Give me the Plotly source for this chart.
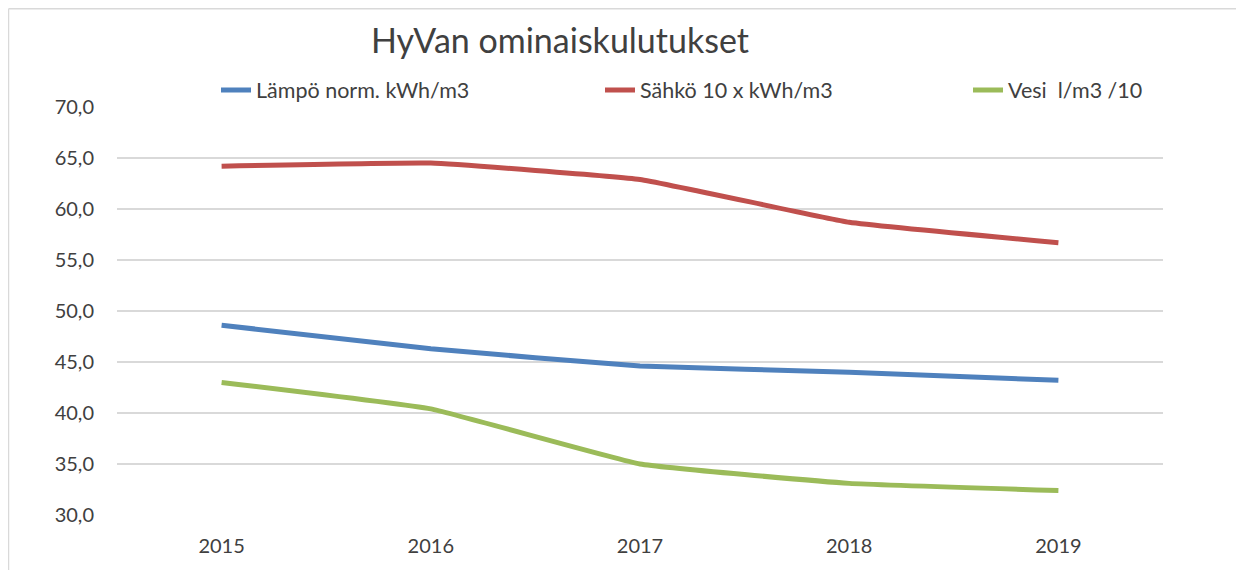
import plotly.graph_objects as go

years = ["2015", "2016", "2017", "2018", "2019"]
lampo = [48.6, 46.3, 44.6, 44.0, 43.2]
sahko = [64.2, 64.5, 62.9, 58.7, 56.7]
vesi = [43.0, 40.4, 35.0, 33.1, 32.4]
names = ["Lämpö norm. kWh/m3", "Sähkö 10 x kWh/m3", "Vesi  l/m3 /10"]
colors = ["#4F81BD", "#C0504D", "#9BBB59"]
yticks = [30, 35, 40, 45, 50, 55, 60, 65, 70]

# the page body has an 8px margin, so the figure is drawn from (8, 8)
OFF = 8
W, H = 1244 - OFF, 570 - OFF
L, R, T, B = 117 - OFF, 81, 107 - OFF, 55
pw, ph = W - L - R, H - T - B

def px(x):  # x in page pixels -> paper
    return (x - OFF - L) / pw

def py(y):  # y in page pixels -> paper
    return (H - B - (y - OFF)) / ph

FONT = "Lato, Open Sans, sans-serif"
TXT = "#404040"

fig = go.Figure()
series = [lampo, sahko, vesi]
legends = ["legend", "legend2", "legend3"]
for s, n, c, lg in zip(series, names, colors, legends):
    fig.add_trace(go.Scatter(x=years, y=s, name=n, mode="lines",
                             line=dict(color=c, width=5, shape="spline", smoothing=0.3),
                             legend=lg, showlegend=True))

text_x = [256, 640, 1008]
leg_common = dict(orientation="h", yanchor="middle", xanchor="left",
                  font=dict(family=FONT, size=21.5, color=TXT),
                  bgcolor="rgba(0,0,0,0)", borderwidth=0, visible=True)
layout_leg = {}
for lg, tx in zip(legends, text_x):
    layout_leg[lg] = dict(leg_common, x=px(tx - 40), y=py(90))

fig.update_layout(
    width=W, height=H,
    showlegend=True,
    margin=dict(l=L, r=R, t=T, b=B),
    paper_bgcolor="white", plot_bgcolor="white",
    separators=", ",
    font=dict(family=FONT, color=TXT, size=20),
    title=dict(text="HyVan ominaiskulutukset", x=(560 - OFF) / W, xanchor="center",
               y=1 - (41 - OFF) / H, yanchor="middle", yref="container",
               font=dict(family=FONT, size=34, color=TXT)),
    xaxis=dict(type="category", range=[-0.5, 4.5], showgrid=False,
               showline=False, ticks="", ticklabelstandoff=17,
               tickfont=dict(family=FONT, size=20, color=TXT)),
    yaxis=dict(range=[30, 70], tickvals=yticks, tickformat=".1f",
               showgrid=True, gridcolor="#d9d9d9", gridwidth=1.5,
               zeroline=False, showline=False, ticks="", ticklabelstandoff=22,
               tickfont=dict(family=FONT, size=20, color=TXT)),
    **layout_leg,
)

# chart area border (top and left edges visible)
fig.add_shape(type="line", xref="paper", yref="paper",
              x0=px(8.5), x1=px(1260), y0=py(8.75), y1=py(8.75),
              line=dict(color="#d9d9d9", width=1.5))
fig.add_shape(type="line", xref="paper", yref="paper",
              x0=px(8.5), x1=px(8.5), y0=py(8.75), y1=py(600),
              line=dict(color="#d9d9d9", width=1.5))

fig.write_html("out.html")
